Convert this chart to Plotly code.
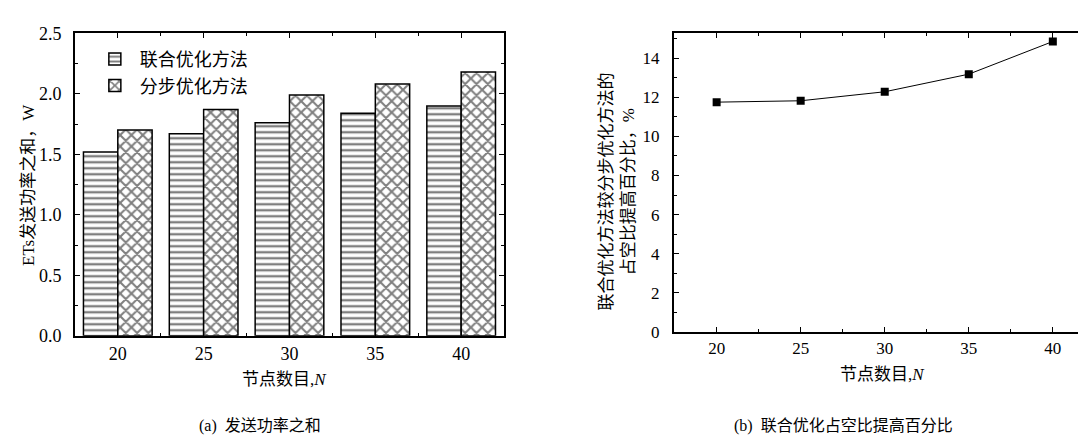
import plotly.graph_objects as go

# ---- data ----
nodes = [20, 25, 30, 35, 40]
joint_power = [1.52, 1.67, 1.76, 1.84, 1.90]      # 联合优化方法
stepwise_power = [1.70, 1.87, 1.99, 2.08, 2.18]   # 分步优化方法
duty_gain = [11.75, 11.82, 12.28, 13.18, 14.85]   # 占空比提高百分比 %

W, H = 1086, 440
SERIF = "Liberation Serif, Noto Sans CJK SC, serif"
CJK = "Liberation Serif, Noto Sans CJK SC, sans-serif"

def px_x(p):
    return p / W

def px_y(p):
    return 1 - p / H

fig = go.Figure()

fig.add_trace(go.Bar(
    x=nodes, y=joint_power, name="联合优化方法",
    offset=-2, width=2,
    marker=dict(color="white",
                line=dict(color="black", width=1.5),
                pattern=dict(shape="-", size=6, solidity=0.4,
                             fgcolor="black", bgcolor="white", fillmode="overlay")),
    xaxis="x", yaxis="y",
))
fig.add_trace(go.Bar(
    x=nodes, y=stepwise_power, name="分步优化方法",
    offset=0, width=2,
    marker=dict(color="white",
                line=dict(color="black", width=1.5),
                pattern=dict(shape="x", size=8, solidity=0.45,
                             fgcolor="black", bgcolor="white", fillmode="overlay")),
    xaxis="x", yaxis="y",
))

fig.add_trace(go.Scatter(
    x=nodes, y=duty_gain, mode="lines+markers", showlegend=False,
    line=dict(color="black", width=1),
    marker=dict(symbol="square", size=8, color="black"),
    xaxis="x2", yaxis="y2",
))

axis_common = dict(
    showline=True, linecolor="black", linewidth=1.5, mirror="ticks",
    ticks="inside", ticklen=5, tickwidth=1.2, tickcolor="black",
    showgrid=False, zeroline=False,
    tickfont=dict(family=SERIF, size=18, color="black"),
)

fig.update_layout(
    width=W, height=H,
    margin=dict(l=0, r=0, t=0, b=0),
    paper_bgcolor="white", plot_bgcolor="white",
    barmode="overlay",
    showlegend=True,
    legend=dict(x=px_x(82), y=px_y(24), xanchor="left", yanchor="top",
                bgcolor="rgba(0,0,0,0)",
                font=dict(family=CJK, size=18, color="black"),
                tracegroupgap=2, itemwidth=40),
    xaxis=dict(axis_common, domain=[px_x(67), px_x(497)], range=[17.5, 42.5],
               tick0=20, dtick=5, anchor="y", ticklabelstandoff=1,
               minor=dict(ticks="inside", ticklen=3, dtick=2.5, tick0=20, tickcolor="black")),
    yaxis=dict(axis_common, domain=[px_y(333), px_y(16)], range=[0, 2.5],
               dtick=0.5, tickformat=".1f", anchor="x", ticklabelstandoff=8,
               minor=dict(ticks="inside", ticklen=3, dtick=0.25, tickcolor="black")),
    xaxis2=dict(axis_common, domain=[px_x(667), 1.0], range=[17.45, 42.33],
                tick0=20, dtick=5, anchor="y2", ticklabelstandoff=0,
                minor=dict(ticks="inside", ticklen=3, dtick=2.5, tick0=20, tickcolor="black")),
    yaxis2=dict(axis_common, domain=[px_y(329), px_y(16)], range=[0, 15.27],
                dtick=2, anchor="x2", ticklabelstandoff=9,
                minor=dict(ticks="inside", ticklen=3, dtick=1, tickcolor="black")),
)
fig.update_layout(
    xaxis2=dict(tickfont=dict(size=17)),
    yaxis2=dict(tickfont=dict(size=17)),
)

ann = [
    dict(text="ETs发送功率之和，W", x=px_x(20), y=px_y(175), textangle=-90,
         font=dict(family=CJK, size=17)),
    dict(text="节点数目,<i>N</i>", x=px_x(277), y=px_y(379),
         font=dict(family=CJK, size=17)),
    dict(text="(a)  发送功率之和", x=px_x(252), y=px_y(427),
         font=dict(family=CJK, size=16)),
    dict(text="联合优化方法较分步优化方法的<br>占空比提高百分比，%", x=px_x(611), y=px_y(182),
         textangle=-90, font=dict(family=CJK, size=17)),
    dict(text="节点数目,<i>N</i>", x=px_x(876), y=px_y(373),
         font=dict(family=CJK, size=17)),
    dict(text="(b)  联合优化占空比提高百分比", x=px_x(837), y=px_y(427),
         font=dict(family=CJK, size=16)),
]
for a in ann:
    a.update(xref="paper", yref="paper", showarrow=False,
             xanchor="center", yanchor="middle")
    a["font"]["color"] = "black"
fig.update_layout(annotations=ann)

fig.write_html("out.html")
